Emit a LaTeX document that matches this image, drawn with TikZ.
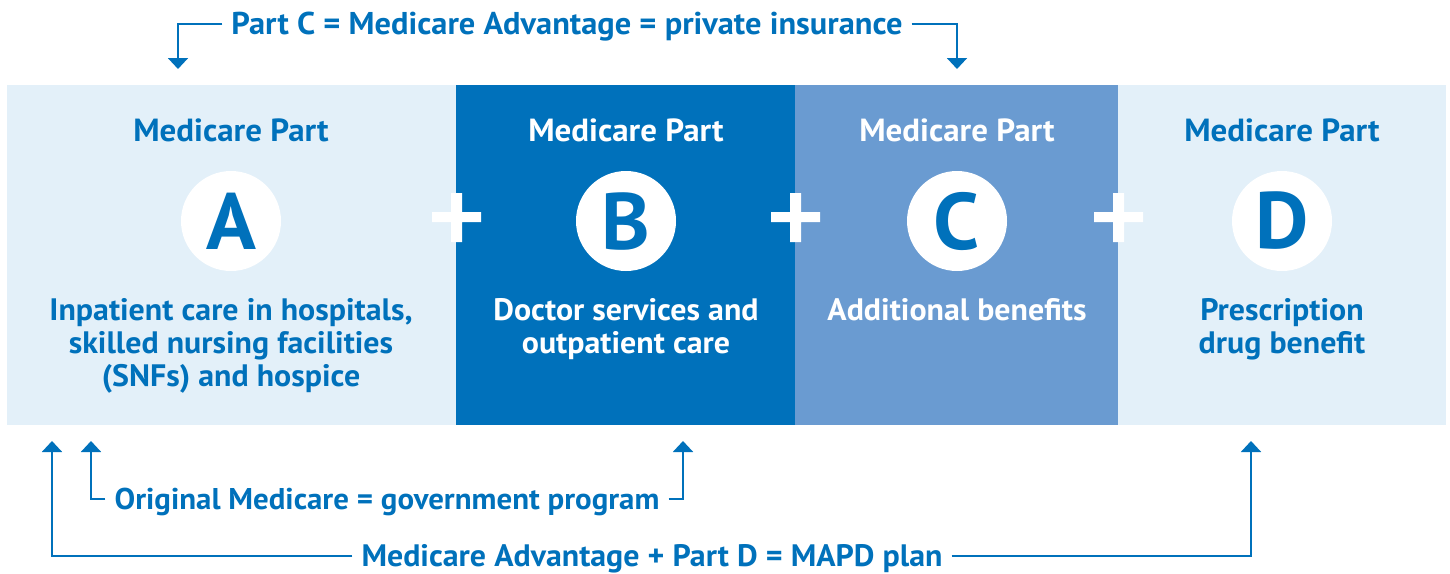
\documentclass[tikz,border=0pt]{standalone}
\usepackage{fontspec}
\setmainfont[FakeStretch=1.03]{PT Sans}
\usetikzlibrary{arrows.meta}
\definecolor{txtblue}{HTML}{0071BB}
\definecolor{darkblue}{HTML}{0071BB}
\definecolor{midblue}{HTML}{6A9BD1}
\definecolor{lightblue}{HTML}{E3F0F9}
\begin{document}
\begin{tikzpicture}[x=1pt,y=-1pt,
  panel/.style={draw=none,anchor=north west,inner sep=0pt,minimum height=340pt},
  headtxt/.style={font=\bfseries\fontsize{32}{36}\selectfont,inner sep=0pt},
  desctxt/.style={font=\bfseries\fontsize{31}{33}\selectfont,inner sep=0pt,align=center},
  circ/.style={circle,fill=white,minimum size=100pt,inner sep=0pt,font=\bfseries\fontsize{80}{80}\selectfont,text=txtblue},
  brtxt/.style={font=\bfseries\fontsize{31}{34}\selectfont,text=txtblue,inner ysep=0pt,inner xsep=9pt,text height=21.7pt,text depth=0pt},
  conn/.style={draw=txtblue,line width=2pt,-{Triangle[width=20pt,length=11pt]}}
]
\useasboundingbox (0,0) rectangle (1450,573);
% panels
\node[panel,fill=lightblue,minimum width=449pt] (pA) at (7,85) {};
\node[panel,fill=darkblue,minimum width=339pt] (pB) at (456,85) {};
\node[panel,fill=midblue,minimum width=323pt] (pC) at (795,85) {};
\node[panel,fill=lightblue,minimum width=328pt] (pD) at (1118,85) {};
% headings
\node[headtxt,text=txtblue] (hA) at (231,130) {Medicare Part};
\node[headtxt,text=white] (hB) at (626,130) {Medicare Part};
\node[headtxt,text=white] (hC) at (957,130) {Medicare Part};
\node[headtxt,text=txtblue] (hD) at (1282,130) {Medicare Part};
% circles
\node[circ] (cA) at (231,221) {A};
\node[circ] (cB) at (626,221) {B};
\node[circ] (cC) at (957,221) {C};
\node[circ] (cD) at (1282,221) {D};
% plus signs
\fill[white] (432,212) rectangle (481,222) (451,193) rectangle (462,242);
\fill[white] (771,212) rectangle (820,222) (790,193) rectangle (801,242);
\fill[white] (1094,212) rectangle (1143,222) (1113,193) rectangle (1124,242);
% descriptions
\node[desctxt,text=txtblue,anchor=north] (dA) at (231,298) {Inpatient care in hospitals,\\skilled nursing facilities\\(SNFs) and hospice};
\node[desctxt,text=white,anchor=north] (dB) at (626,298) {Doctor services and\\outpatient care};
\node[desctxt,text=white,anchor=north] (dC) at (957,298) {Additional benefits};
\node[desctxt,text=txtblue,anchor=north] (dD) at (1282,298) {Prescription\\drug benefit};
% top bracket
\node[brtxt,font=\bfseries\fontsize{31.5}{34}\selectfont] (tC) at (567,24) {Part C = Medicare Advantage = private insurance};
\coordinate (tL) at (178,69);
\coordinate (tR) at (957,69);
\draw[conn] (tC.west) -| (tL);
\draw[conn] (tC.east) -| (tR);
% bottom brackets
\node[brtxt,font=\bfseries\fontsize{30}{34}\selectfont] (bO) at (387,499) {Original Medicare = government program};
\node[brtxt] (bM) at (652,556) {Medicare Advantage + Part D = MAPD plan};
\coordinate (oL) at (91,441);
\coordinate (oR) at (683,441);
\coordinate (mL) at (52,441);
\coordinate (mR) at (1251,441);
\draw[conn] (bO.west) -| (oL);
\draw[conn] (bO.east) -| (oR);
\draw[conn] (bM.west) -| (mL);
\draw[conn] (bM.east) -| (mR);
\end{tikzpicture}
\end{document}
